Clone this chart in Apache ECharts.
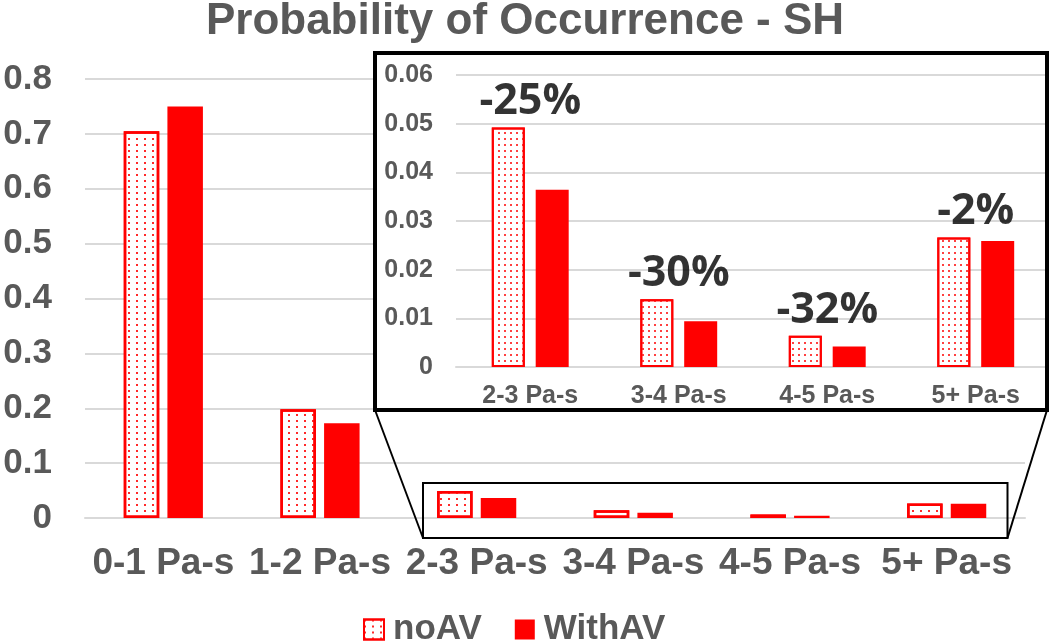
<!DOCTYPE html>
<html>
<head>
<meta charset="utf-8">
<script src="https://cdn.jsdelivr.net/npm/echarts@6/dist/echarts.min.js"></script>
<style>
html,body{margin:0;padding:0;background:#fff;}
#chart{width:1050px;height:642px;}
</style>
</head>
<body>
<div id="chart"></div>
<script>
// ---- data ----
const categories = ['0-1 Pa-s', '1-2 Pa-s', '2-3 Pa-s', '3-4 Pa-s', '4-5 Pa-s', '5+ Pa-s'];
const noAV = [0.705, 0.198, 0.0492, 0.0139, 0.0064, 0.0266];
const withAV = [0.750, 0.1725, 0.0364, 0.0094, 0.0042, 0.0259];
const insetStart = 2; // inset shows categories from '2-3 Pa-s' on
const pctLabels = ['-25%', '-30%', '-32%', '-2%'];
const mainYMax = 0.8, mainYStep = 0.1;
const insetYMax = 0.06, insetYStep = 0.01;

const insetCategories = categories.slice(insetStart);
const insetNoAV = noAV.slice(insetStart);
const insetWithAV = withAV.slice(insetStart);

const FONT = "'Liberation Sans', Arial, sans-serif";
const GRAY = '#595959';
const GRID = '#d9d9d9';
const RED = '#ff0000';

const chart = echarts.init(document.getElementById('chart'), null, {renderer: 'canvas'});

const option = {
  animation: false,
  backgroundColor: '#fff',
  title: {
    text: 'Probability of Occurrence - SH',
    left: 'center',
    top: 0,
    padding: [0, 17, 0, 0],
    textStyle: {fontFamily: FONT, fontSize: 44, fontWeight: 'bold', color: GRAY}
  },
  legend: {
    data: ['noAV', 'WithAV'],
    left: 358,
    top: 607,
    icon: 'rect',
    itemWidth: 20,
    itemHeight: 20,
    itemGap: 33,
    textStyle: {fontFamily: FONT, fontSize: 35, fontWeight: 'bold', color: GRAY, padding: [0, 0, 0, 4]}
  },
  grid: [
    {left: 85, top: 79, width: 940, height: 439},
    {left: 456, top: 75, width: 613, height: 292}
  ],
  xAxis: [
    {
      type: 'category', gridIndex: 0, data: categories,
      axisTick: {show: false},
      axisLine: {lineStyle: {color: GRID, width: 2}},
      axisLabel: {interval: 0, fontFamily: FONT, fontSize: 37, fontWeight: 'bold', color: GRAY, margin: 27}
    },
    {
      type: 'category', gridIndex: 1, data: insetCategories, z: 3,
      axisTick: {show: false},
      axisLine: {lineStyle: {color: GRID, width: 2}},
      axisLabel: {interval: 0, fontFamily: FONT, fontSize: 25, fontWeight: 'bold', color: GRAY, margin: 17}
    }
  ],
  yAxis: [
    {
      type: 'value', gridIndex: 0, min: 0, max: mainYMax, interval: mainYStep,
      axisLine: {show: false}, axisTick: {show: false},
      axisLabel: {fontFamily: FONT, fontSize: 35, fontWeight: 'bold', color: GRAY, margin: 33},
      splitLine: {lineStyle: {color: GRID, width: 2}}
    },
    {
      type: 'value', gridIndex: 1, min: 0, max: insetYMax, interval: insetYStep, z: 3,
      axisLine: {show: false}, axisTick: {show: false},
      axisLabel: {fontFamily: FONT, fontSize: 25, fontWeight: 'bold', color: GRAY, margin: 23},
      splitLine: {lineStyle: {color: GRID, width: 2}}
    }
  ],
  series: [
    {
      name: 'noAV', type: 'bar', xAxisIndex: 0, yAxisIndex: 0,
      barWidth: 35.5, barGap: '23%',
      data: noAV,
      itemStyle: {
        color: '#ffffff', borderColor: RED, borderWidth: 2.5,
        decal: {symbol: 'rect', symbolSize: 1, color: '#ff2a2a', dashArrayX: [2, 5.2], dashArrayY: [2, 3.4]}
      }
    },
    {
      name: 'WithAV', type: 'bar', xAxisIndex: 0, yAxisIndex: 0,
      barWidth: 35.5, barGap: '23%',
      data: withAV,
      itemStyle: {color: RED}
    },
    {
      name: 'noAV', type: 'bar', xAxisIndex: 1, yAxisIndex: 1, z: 4,
      barWidth: 33, barGap: '33%',
      data: insetNoAV,
      itemStyle: {
        color: '#ffffff', borderColor: RED, borderWidth: 2,
        decal: {symbol: 'rect', symbolSize: 1, color: '#ff4040', dashArrayX: [1.5, 3.5], dashArrayY: [1.5, 3.5]}
      }
    },
    {
      name: 'WithAV', type: 'bar', xAxisIndex: 1, yAxisIndex: 1, z: 4,
      barWidth: 33, barGap: '33%',
      data: insetWithAV,
      itemStyle: {color: RED}
    },
    {
      name: 'change', type: 'scatter', xAxisIndex: 1, yAxisIndex: 1, z: 5,
      symbolSize: 0, silent: true,
      data: insetNoAV,
      label: {
        show: true, position: 'top', distance: 4,
        formatter: p => pctLabels[p.dataIndex],
        fontFamily: "'Open Sans', sans-serif", fontSize: 43, fontWeight: 'bold', color: '#000'
      }
    }
  ],
  graphic: [
    {type: 'rect', z: 1, shape: {x: 375, y: 53, width: 672, height: 357}, style: {fill: '#fff'}},
    {type: 'rect', z: 9, shape: {x: 1049, y: 50, width: 10, height: 365}, style: {fill: '#fff'}},
    {type: 'rect', z: 10, shape: {x: 375, y: 53, width: 672, height: 357}, style: {fill: null, stroke: '#000', lineWidth: 4}},
    {type: 'rect', z: 10, shape: {x: 423, y: 483, width: 584.5, height: 55}, style: {fill: null, stroke: '#000', lineWidth: 2}},
    {type: 'line', z: 10, shape: {x1: 375, y1: 410, x2: 423, y2: 538}, style: {stroke: '#000', lineWidth: 2}},
    {type: 'line', z: 10, shape: {x1: 1047, y1: 410, x2: 1007.5, y2: 538}, style: {stroke: '#000', lineWidth: 2}}
  ]
};

chart.setOption(option);
</script>
</body>
</html>
